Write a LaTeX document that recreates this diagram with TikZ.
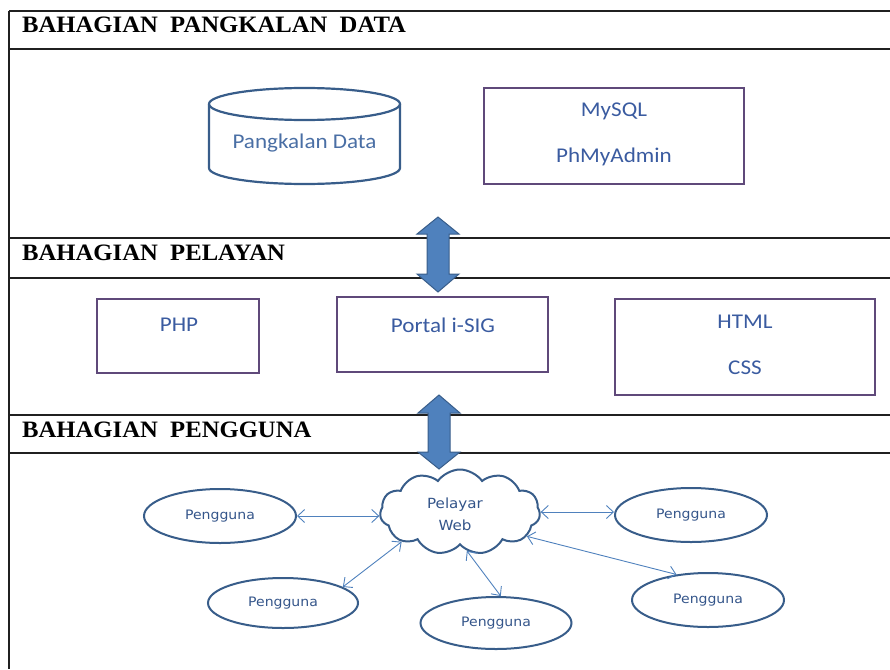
\documentclass[tikz,border=0pt]{standalone}
\usepackage{fontspec}
\setmainfont{Liberation Serif}
\newfontfamily\headfont[FakeStretch=1.05]{Liberation Serif}
\newfontfamily\calibri[FakeStretch=1.1]{Carlito}
\newfontfamily\verd[FakeStretch=1.08]{DejaVu Sans}
\usetikzlibrary{shapes.geometric,shapes.symbols,arrows.meta}
\definecolor{frameblk}{HTML}{202020}
\definecolor{shapeblue}{HTML}{385D8A}
\definecolor{fillblue}{HTML}{4F81BD}
\definecolor{boxpurple}{HTML}{5F497A}
\definecolor{txtblue}{HTML}{3A5BA0}
\definecolor{dbtxt}{HTML}{4A6FA5}
\definecolor{usertxt}{HTML}{34558A}
\definecolor{linkblue}{HTML}{4F81BD}
\tikzset{
  frameline/.style={draw=frameblk, line width=1.6pt},
  header/.style={anchor=west, inner sep=0pt, font=\headfont\bfseries\fontsize{23.5}{26}\selectfont},
  purplebox/.style={draw=boxpurple, line width=1.8pt, inner sep=0pt},
  boxtext/.style={text=txtblue, font=\calibri\fontsize{21}{24}\selectfont, inner sep=0pt},
  userell/.style={ellipse, draw=shapeblue, line width=2pt, minimum width=152pt, minimum height=54pt, inner sep=0pt,
    text=usertxt, font=\verd\fontsize{13}{15}\selectfont},
  link/.style={draw=linkblue, line width=0.9pt, {Straight Barb[length=7pt,width=13pt]}-{Straight Barb[length=7pt,width=13pt]}},
  blockarrow/.style={fill=fillblue, draw=shapeblue, line width=1pt}
}
\begin{document}
\begin{tikzpicture}[x=1pt,y=-1pt]
\useasboundingbox (0,0) rectangle (890,669);
% frame
\draw[frameline] (9,11) -- (9,669);
\foreach \yy in {11,49,238,278,415,453} {\draw[frameline] (9,\yy) -- (890,\yy);}
% headers
\node[header] (h1) at (22,25) {BAHAGIAN\ \ PANGKALAN\ \ DATA};
\node[header] (h2) at (22,253) {BAHAGIAN\ \ PELAYAN};
\node[header] (h3) at (22,430) {BAHAGIAN\ \ PENGGUNA};
% database section
\draw[draw=shapeblue, line width=2.2pt, fill=white] (209,104) -- (209,168) arc[start angle=180, end angle=0, x radius=95.5, y radius=16] -- (400,104);
\draw[draw=shapeblue, line width=2.2pt] (304.5,104) ellipse[x radius=95.5, y radius=16];
\node[boxtext, text=dbtxt] (db) at (304.5,143) {Pangkalan Data};
\node[purplebox, minimum width=260pt, minimum height=96pt] (mysql) at (614,136) {};
\node[boxtext] (mysqlt) at (614,111) {MySQL};
\node[boxtext] (pma) at (614,157) {PhMyAdmin};
% server section
\node[purplebox, minimum width=162pt, minimum height=74pt] (php) at (178,336) {};
\node[boxtext] (phpt) at (179,325) {PHP};
\node[purplebox, minimum width=211pt, minimum height=75pt] (portal) at (442.5,334.5) {};
\node[boxtext] (portalt) at (443,325) {Portal i-SIG};
\node[purplebox, minimum width=260pt, minimum height=96pt] (html) at (745,347) {};
\node[boxtext] (htmlt) at (745,322) {HTML};
\node[boxtext] (csst) at (745,368) {CSS};
% users section
\node[cloud, draw=shapeblue, line width=2pt, fill=white, cloud puffs=11, cloud puff arc=110, aspect=1.9,
  minimum width=160pt, minimum height=85pt, inner sep=0pt, text=usertxt, align=center,
  font=\verd\fontsize{14}{22}\selectfont] (web) at (460,512) {};
\node[text=usertxt, align=center, inner sep=0pt, font=\verd\fontsize{14}{22}\selectfont] (webt) at (455,514) {Pelayar\\Web};
\node[userell] (u1) at (220,516) {Pengguna};
\node[userell, minimum width=150pt, minimum height=50pt] (u2) at (283,603) {Pengguna};
\node[userell, minimum width=151pt, minimum height=52pt] (u3) at (496,623) {Pengguna};
\node[userell] (u4) at (691,515) {Pengguna};
\node[userell] (u5) at (708,600) {Pengguna};
\draw[link] (u1.east) -- (u1.east -| web.west);
\draw[link] (u2.15) -- (web.207);
\draw[link] (web.280) -- (u3.80);
\draw[link] (web.east) -- (web.east -| u4.west);
\draw[link] (web.340) -- (u5.141);
% block arrows
\coordinate (a1t) at (438,217);
\coordinate (a1b) at (438,292);
\draw[blockarrow] (a1t) -- ++(21,17) -- ++(-10,0) -- ++(0,40) -- ++(10,0) -- (a1b) -- ++(-21,-18) -- ++(10,0) -- ++(0,-40) -- ++(-10,0) -- cycle;
\coordinate (a2t) at (439,395);
\coordinate (a2b) at (439,469);
\draw[blockarrow] (a2t) -- ++(21,18) -- ++(-10,0) -- ++(0,39) -- ++(10,0) -- (a2b) -- ++(-21,-17) -- ++(10,0) -- ++(0,-39) -- ++(-10,0) -- cycle;
\end{tikzpicture}
\end{document}
